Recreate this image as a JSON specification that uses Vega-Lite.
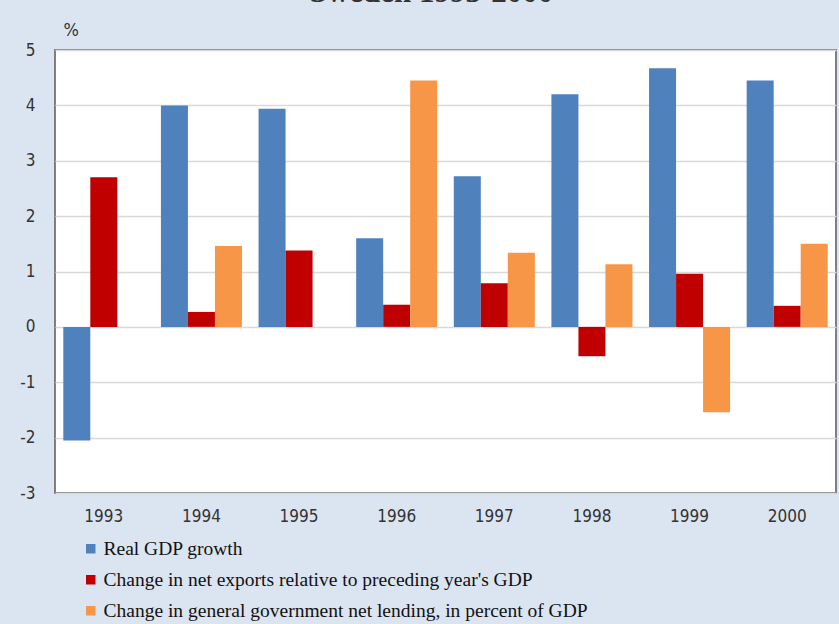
{
  "$schema": "https://vega.github.io/schema/vega-lite/v6.json",
  "autosize": "none",
  "width": 781,
  "height": 443,
  "padding": {"left": 55, "top": 50, "right": 3, "bottom": 131},
  "background": "#dbe5f1",
  "title": {
    "text": "Sweden 1993-2000",
    "font": "Liberation Serif",
    "fontSize": 31,
    "fontWeight": "bold",
    "color": "#333333",
    "anchor": "middle",
    "baseline": "alphabetic",
    "offset": 12,
    "dy": 24,
    "dx": -14
  },
  "config": {
    "view": {"fill": "#ffffff", "stroke": "#7f7f7f", "strokeWidth": 2},
    "axis": {"labelFont": "DejaVu Sans Condensed", "labelFontSize": 17, "labelColor": "#333333"}
  },
  "data": {
    "values": [
      {"year": "1993", "series": "Real GDP growth", "value": -2.05},
      {"year": "1993", "series": "Change in net exports relative to preceding year's GDP", "value": 2.7},
      {"year": "1994", "series": "Real GDP growth", "value": 4.0},
      {"year": "1994", "series": "Change in net exports relative to preceding year's GDP", "value": 0.27},
      {"year": "1994", "series": "Change in general government net lending, in percent of GDP", "value": 1.46},
      {"year": "1995", "series": "Real GDP growth", "value": 3.94},
      {"year": "1995", "series": "Change in net exports relative to preceding year's GDP", "value": 1.38},
      {"year": "1996", "series": "Real GDP growth", "value": 1.6},
      {"year": "1996", "series": "Change in net exports relative to preceding year's GDP", "value": 0.4},
      {"year": "1996", "series": "Change in general government net lending, in percent of GDP", "value": 4.45},
      {"year": "1997", "series": "Real GDP growth", "value": 2.72},
      {"year": "1997", "series": "Change in net exports relative to preceding year's GDP", "value": 0.79},
      {"year": "1997", "series": "Change in general government net lending, in percent of GDP", "value": 1.34},
      {"year": "1998", "series": "Real GDP growth", "value": 4.2},
      {"year": "1998", "series": "Change in net exports relative to preceding year's GDP", "value": -0.53},
      {"year": "1998", "series": "Change in general government net lending, in percent of GDP", "value": 1.13},
      {"year": "1999", "series": "Real GDP growth", "value": 4.67},
      {"year": "1999", "series": "Change in net exports relative to preceding year's GDP", "value": 0.96},
      {"year": "1999", "series": "Change in general government net lending, in percent of GDP", "value": -1.54},
      {"year": "2000", "series": "Real GDP growth", "value": 4.45},
      {"year": "2000", "series": "Change in net exports relative to preceding year's GDP", "value": 0.38},
      {"year": "2000", "series": "Change in general government net lending, in percent of GDP", "value": 1.5}
    ]
  },
  "mark": {"type": "bar"},
  "encoding": {
    "x": {
      "field": "year",
      "type": "nominal",
      "scale": {"paddingInner": 0.17, "paddingOuter": 0.085},
      "axis": {"title": null, "labelAngle": 0, "domain": false, "ticks": false, "labelPadding": 15, "grid": false}
    },
    "xOffset": {
      "field": "series",
      "type": "nominal",
      "scale": {"domain": ["Real GDP growth", "Change in net exports relative to preceding year's GDP", "Change in general government net lending, in percent of GDP"], "paddingInner": 0, "paddingOuter": 0}
    },
    "y": {
      "field": "value",
      "type": "quantitative",
      "scale": {"domain": [-3, 5], "nice": false, "zero": false},
      "axis": {
        "title": "%",
        "titleAngle": 0,
        "titleAlign": "left",
        "titleBaseline": "bottom",
        "titleX": 8,
        "titleY": -11,
        "titleFont": "DejaVu Sans Condensed",
        "titleFontSize": 18,
        "titleFontWeight": "normal",
        "titleColor": "#333333",
        "values": [-3, -2, -1, 0, 1, 2, 3, 4, 5],
        "labelExpr": "'' + datum.value",
        "domain": false,
        "ticks": false,
        "labelPadding": 20,
        "gridColor": "#d9d9d9",
        "gridWidth": 1.5
      }
    },
    "color": {
      "field": "series",
      "type": "nominal",
      "scale": {
        "domain": ["Real GDP growth", "Change in net exports relative to preceding year's GDP", "Change in general government net lending, in percent of GDP"],
        "range": ["#4f81bd", "#c00000", "#f79646"]
      },
      "legend": {
        "title": null,
        "orient": "none",
        "legendX": 26,
        "legendY": 489,
        "direction": "vertical",
        "symbolType": "square",
        "symbolSize": 90,
        "symbolStrokeWidth": 0,
        "labelFont": "Liberation Serif",
        "labelFontSize": 19.5,
        "labelColor": "#111111",
        "labelLimit": 800,
        "labelOffset": 3,
        "rowPadding": 10
      }
    }
  }
}
